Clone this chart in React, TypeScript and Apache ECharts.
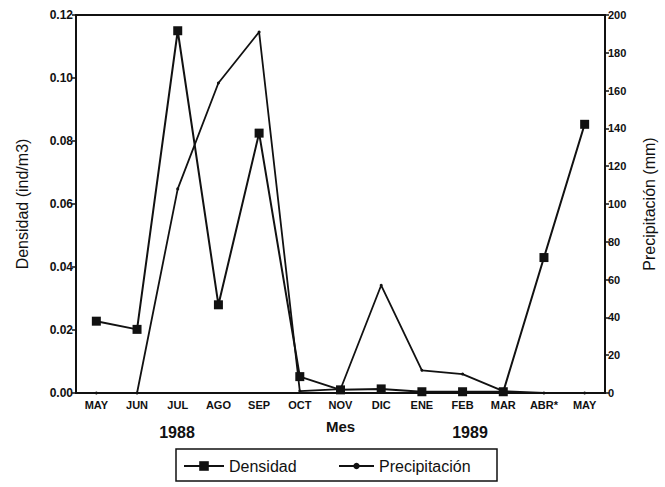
import React, { useEffect, useRef } from "react";
import * as echarts from "echarts";

// Monthly samples, May 1988 – May 1989
const months = ["MAY", "JUN", "JUL", "AGO", "SEP", "OCT", "NOV", "DIC", "ENE", "FEB", "MAR", "ABR*", "MAY"];
// Density of organisms (ind/m3), left axis
const densidad = [0.0228, 0.0202, 0.115, 0.028, 0.0825, 0.0052, 0.001, 0.0013, 0.0004, 0.0004, 0.0004, 0.043, 0.0853];
// Monthly rainfall (mm), right axis
const precipitacion = [0, 0, 108, 164, 191, 1, 2, 57, 12, 10, 1, 0, 0];
// Year captions under the month labels
const years = [
  { label: "1988", x: 177 },
  { label: "1989", x: 470 },
];

const FONT = "'Liberation Sans', Arial, Helvetica, sans-serif";
const INK = "#111";

export default function App() {
  const ref = useRef<HTMLDivElement>(null);

  useEffect(() => {
    if (!ref.current) return;
    const chart = echarts.init(ref.current, undefined, { renderer: "svg" });

    chart.setOption({
      animation: false,
      backgroundColor: "#fff",
      textStyle: { fontFamily: FONT, color: INK },
      grid: {
        left: 76,
        right: 56,
        top: 15,
        bottom: 94,
        containLabel: false,
        show: true,
        borderColor: INK,
        borderWidth: 2,
        backgroundColor: "transparent",
      },
      xAxis: {
        type: "category",
        data: months,
        boundaryGap: true,
        name: "Mes",
        nameLocation: "middle",
        nameGap: 26,
        nameTextStyle: { fontSize: 15, fontWeight: "bold", color: INK, fontFamily: FONT },
        axisLine: { lineStyle: { color: INK, width: 2 } },
        axisTick: { alignWithLabel: true, length: 4, lineStyle: { color: INK, width: 1.5 } },
        axisLabel: { interval: 0, fontSize: 11, fontWeight: "bold", color: INK, margin: 6, fontFamily: FONT },
        splitLine: { show: false },
      },
      yAxis: [
        {
          type: "value",
          min: 0,
          max: 0.12,
          interval: 0.02,
          position: "left",
          name: "Densidad (ind/m3)",
          nameLocation: "middle",
          nameGap: 46,
          nameRotate: 90,
          nameTextStyle: { fontSize: 16, color: INK, fontFamily: FONT },
          axisLine: { show: true, lineStyle: { color: INK, width: 2 } },
          axisTick: { show: true, length: 4, lineStyle: { color: INK, width: 1.5 } },
          axisLabel: {
            fontSize: 12,
            fontWeight: "bold",
            color: INK,
            margin: 3,
            fontFamily: FONT,
            formatter: (v: number) => v.toFixed(2),
          },
          splitLine: { show: false },
        },
        {
          type: "value",
          min: 0,
          max: 200,
          interval: 20,
          position: "right",
          name: "Precipitación (mm)",
          nameLocation: "middle",
          nameGap: 36,
          nameRotate: 90,
          nameTextStyle: { fontSize: 16, color: INK, fontFamily: FONT },
          axisLine: { show: true, lineStyle: { color: INK, width: 2 } },
          axisTick: { show: true, length: 4, lineStyle: { color: INK, width: 1.5 } },
          axisLabel: { fontSize: 11, fontWeight: "bold", color: INK, margin: 3, fontFamily: FONT },
          splitLine: { show: false },
        },
      ],
      legend: [
        {
          data: ["Densidad"],
          left: 183,
          top: 458,
          itemWidth: 40,
          itemHeight: 12,
          padding: 0,
          textStyle: { fontSize: 16, color: INK, fontFamily: FONT },
        },
        {
          data: ["Precipitación"],
          left: 338,
          top: 458,
          itemWidth: 35,
          itemHeight: 8,
          padding: 0,
          textStyle: { fontSize: 16, color: INK, fontFamily: FONT },
        },
      ],
      graphic: [
        {
          type: "rect",
          shape: { x: 176, y: 449, width: 321, height: 32 },
          style: { fill: "none", stroke: INK, lineWidth: 1.5 },
          silent: true,
        },
        ...years.map((y) => ({
          type: "text",
          x: y.x,
          y: 432,
          style: {
            text: y.label,
            fontSize: 16,
            fontWeight: "bold",
            fontFamily: FONT,
            fill: INK,
            textAlign: "center",
            textVerticalAlign: "middle",
          },
          silent: true,
        })),
      ],
      series: [
        {
          name: "Densidad",
          type: "line",
          yAxisIndex: 0,
          data: densidad,
          symbol: "rect",
          symbolSize: 9,
          lineStyle: { color: INK, width: 2 },
          itemStyle: { color: INK },
          z: 3,
        },
        {
          name: "Precipitación",
          type: "line",
          yAxisIndex: 1,
          data: precipitacion,
          symbol: "circle",
          symbolSize: 3,
          lineStyle: { color: INK, width: 1.8 },
          itemStyle: { color: INK },
          z: 2,
        },
      ],
    });

    return () => chart.dispose();
  }, []);

  return <div ref={ref} style={{ width: 665, height: 487, position: "absolute", left: 0, top: 0 }} />;
}
